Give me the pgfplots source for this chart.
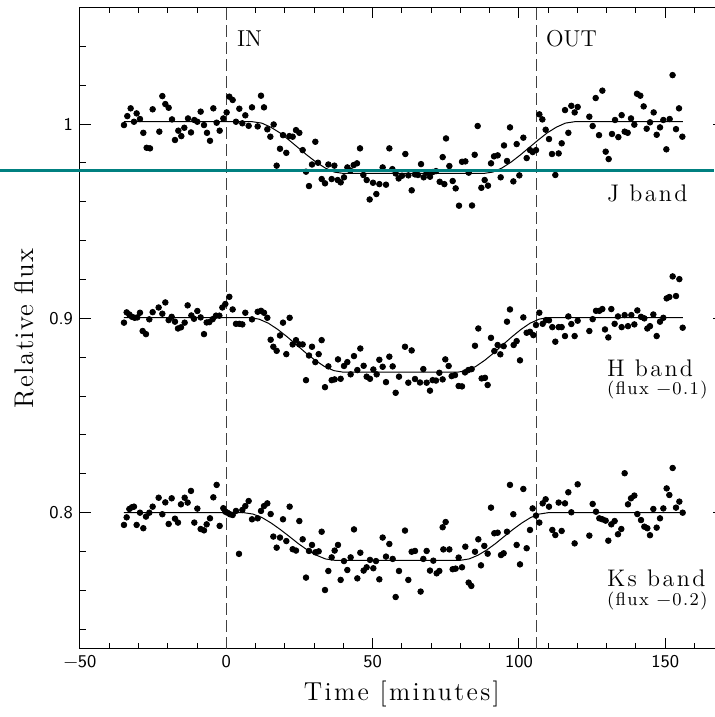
\documentclass[border=0pt]{standalone}
\usepackage{fontspec}
\usepackage{pgfplots}
\pgfplotsset{compat=1.18}
\usepackage{pgfplotstable}
\newfontfamily\labfont{Latin Modern Roman}[LetterSpace=5]
\newfontfamily\xlabfont{Latin Modern Roman}[LetterSpace=9]
\newfontfamily\bandfont{Latin Modern Roman}[LetterSpace=10]
\newfontfamily\fluxfont{Latin Modern Roman}[LetterSpace=8]
\definecolor{tealline}{RGB}{0,128,128}

% J band
\pgfplotstableread{
x y
-34.97 0.9995
-33.83 1.0041
-32.69 1.0081
-31.55 1.0012
-30.64 1.0055
-29.50 1.0026
-28.36 0.9955
-27.22 0.9878
-26.08 0.9875
-25.17 1.0076
-22.89 0.9961
-21.86 1.0144
-20.84 1.0103
-19.70 1.0084
-18.56 1.0024
-17.54 0.9918
-16.40 0.9966
-15.37 0.9938
-14.35 0.9981
-13.09 1.0029
-12.07 0.9957
-10.93 1.0021
-9.90 1.0012
-8.76 1.0064
-7.62 0.9995
-6.60 0.9955
-5.57 0.9914
-4.43 1.0081
-3.30 1.0007
-2.27 0.9966
-1.02 1.0029
0.12 1.0060
1.03 1.0141
2.17 1.0124
3.31 1.0012
4.45 1.0079
5.48 1.0004
6.50 1.0045
7.64 0.9991
8.78 1.0086
10.72 0.9988
11.86 1.0146
12.88 1.0086
14.02 0.9973
15.05 0.9935
16.19 0.9998
17.21 0.9786
18.35 0.9873
19.38 0.9943
20.51 0.9852
21.54 0.9938
22.68 0.9935
23.82 0.9969
24.96 0.9955
26.10 0.9866
27.24 0.9755
28.26 0.9681
29.29 0.9792
30.43 0.9909
31.34 0.9801
32.60 0.9717
33.74 0.9695
34.88 0.9792
36.01 0.9717
36.93 0.9786
38.07 0.9712
39.09 0.9700
40.23 0.9726
41.37 0.9777
42.39 0.9760
43.53 0.9789
44.67 0.9798
45.70 0.9875
46.84 0.9738
47.98 0.9712
49.00 0.9612
50.14 0.9698
51.28 0.9640
52.31 0.9691
53.44 0.9777
54.58 0.9688
55.72 0.9875
56.75 0.9768
57.89 0.9746
58.91 0.9720
60.05 0.9734
61.19 0.9846
62.22 0.9736
63.36 0.9659
64.50 0.9741
65.52 0.9738
66.55 0.9794
67.46 0.9726
68.48 0.9750
69.62 0.9729
70.53 0.9753
71.67 0.9758
72.93 0.9703
73.95 0.9830
74.52 0.9691
75.09 0.9926
76.23 0.9784
77.37 0.9707
78.39 0.9669
79.53 0.9580
80.56 0.9806
81.70 0.9808
82.84 0.9750
83.98 0.9581
84.89 0.9842
85.91 0.9990
87.17 0.9672
88.30 0.9712
89.44 0.9683
90.47 0.9798
91.50 0.9834
92.75 0.9839
93.77 0.9726
94.91 0.9890
95.94 0.9810
96.96 0.9983
98.10 0.9705
99.24 0.9897
100.15 0.9736
101.52 0.9930
102.66 0.9825
103.80 0.9866
104.71 0.9856
105.85 0.9866
106.99 1.0050
108.01 1.0024
109.15 0.9971
110.29 0.9923
111.31 0.9846
112.45 0.9738
113.59 0.9849
114.62 0.9901
115.76 1.0072
116.90 0.9955
117.92 1.0094
119.06 1.0060
120.09 1.0088
124.07 1.0038
125.21 0.9990
126.24 1.0134
127.38 0.9943
128.52 1.0172
129.66 0.9858
130.68 0.9820
131.82 0.9949
132.85 1.0021
133.99 0.9933
135.12 1.0046
136.15 0.9961
137.18 0.9955
138.31 1.0029
139.45 0.9997
140.36 1.0156
141.50 1.0146
142.64 1.0091
143.67 0.9976
144.81 1.0009
146.06 1.0060
147.09 0.9945
148.23 0.9983
149.36 1.0021
150.39 0.9870
151.53 1.0026
152.52 1.0252
153.69 0.9974
154.72 1.0081
155.86 0.9935
}\jband

% H band (flux - 0.1)
\pgfplotstableread{
x y
-34.97 0.8978
-34.05 0.9031
-33.14 0.9020
-32.23 0.9008
-31.32 0.9003
-30.41 0.9005
-29.50 0.9029
-28.59 0.8935
-27.45 0.8919
-26.31 0.8995
-25.17 0.9032
-23.12 0.9056
-21.86 0.9024
-20.84 0.9082
-19.70 0.8991
-18.67 0.9008
-17.54 0.8983
-16.51 0.8948
-15.49 0.8954
-14.23 0.8978
-13.21 0.9067
-11.95 0.9015
-11.04 0.8998
-9.90 0.9038
-8.76 0.9005
-7.62 0.8919
-6.71 0.8979
-5.80 0.8981
-4.66 0.8996
-3.52 0.9014
-2.38 0.9014
-1.36 0.9056
-0.33 0.9074
1.03 0.9111
2.17 0.9046
3.31 0.8972
4.45 0.8972
5.48 0.8969
6.50 0.9029
8.78 0.8995
10.72 0.9034
11.86 0.9039
12.88 0.9029
14.02 0.9003
15.16 0.8890
16.07 0.8854
17.21 0.8833
18.35 0.8912
19.38 0.8978
20.51 0.8816
21.65 0.9003
22.68 0.8866
23.82 0.8888
24.96 0.8866
26.10 0.8866
27.24 0.8682
28.26 0.8809
29.29 0.8854
30.43 0.8775
31.57 0.8816
32.59 0.8888
33.73 0.8646
34.87 0.8753
36.01 0.8682
37.03 0.8686
38.17 0.8789
39.08 0.8689
40.22 0.8755
41.36 0.8775
42.50 0.8712
43.64 0.8806
44.78 0.8734
45.80 0.8845
46.94 0.8756
47.97 0.8700
49.11 0.8689
50.25 0.8737
51.39 0.8712
52.30 0.8787
53.44 0.8751
54.58 0.8672
55.72 0.8803
56.86 0.8753
57.88 0.8617
59.02 0.8700
61.07 0.8854
62.21 0.8669
63.35 0.8835
64.49 0.8688
66.20 0.8670
67.33 0.8739
68.47 0.8669
69.61 0.8628
70.52 0.8682
71.66 0.8680
72.80 0.8720
73.94 0.8686
74.85 0.8789
75.99 0.8755
77.02 0.8703
78.16 0.8708
79.41 0.8652
80.55 0.8650
81.57 0.8722
82.71 0.8734
83.85 0.8739
84.99 0.8859
86.13 0.8948
87.27 0.8691
88.41 0.8694
89.32 0.8657
90.46 0.8900
91.60 0.8832
92.74 0.8863
93.65 0.8815
94.79 0.8857
95.93 0.8983
96.95 0.9046
98.21 0.8863
99.23 0.8883
100.37 0.8784
101.51 0.9005
102.65 0.8926
103.79 0.8931
104.93 0.8914
105.84 0.8966
106.98 0.9029
108.12 0.8972
109.26 0.8991
110.28 0.8990
111.42 0.8955
112.45 0.8880
113.59 0.8955
114.61 0.8955
115.75 0.8909
116.89 0.9010
117.92 0.8971
119.05 0.8909
120.08 0.8988
124.07 0.8935
125.21 0.8996
126.35 0.9039
127.48 0.9039
128.51 0.9048
129.42 0.8943
130.56 0.8902
131.58 0.9048
132.72 0.8972
133.86 0.9010
135.12 0.8955
136.14 0.9017
137.28 0.8960
138.42 0.9017
139.45 0.8969
140.47 0.9041
141.73 0.9008
142.86 0.9000
143.89 0.8948
144.80 0.8960
145.94 0.9020
147.08 0.8909
148.22 0.8983
149.36 0.9003
150.50 0.9103
151.41 0.9110
152.55 0.9216
153.69 0.9115
154.83 0.9202
155.97 0.8952
}\hband

% Ks band (flux - 0.2)
\pgfplotstableread{
x y
-34.97 0.7937
-34.05 0.7976
-33.14 0.8019
-32.23 0.8028
-31.55 0.8031
-30.64 0.7937
-29.50 0.8000
-28.36 0.7920
-27.45 0.7980
-26.31 0.8000
-25.17 0.8031
-23.12 0.8077
-21.86 0.7992
-20.84 0.8053
-19.70 0.7942
-18.67 0.8074
-17.54 0.7969
-16.51 0.7949
-15.49 0.8043
-14.23 0.8077
-13.21 0.8052
-12.07 0.8112
-10.93 0.7949
-9.90 0.8021
-8.76 0.7916
-7.62 0.7909
-6.71 0.7940
-5.57 0.7971
-4.43 0.8079
-3.30 0.8143
-2.27 0.7932
-1.02 0.8023
-0.33 0.8005
0.35 0.8000
1.26 0.7992
2.17 0.7988
3.31 0.8009
4.34 0.7788
5.48 0.8014
6.50 0.8034
7.64 0.8060
8.78 0.7966
10.72 0.7971
11.86 0.8009
12.88 0.8034
14.02 0.8048
15.16 0.7993
16.07 0.7877
17.21 0.7820
18.35 0.7872
19.38 0.7966
20.51 0.7854
21.65 0.8031
22.68 0.7812
23.82 0.7805
24.96 0.7957
26.10 0.7863
27.24 0.7666
28.26 0.7803
29.29 0.7834
30.43 0.7796
31.57 0.7801
32.59 0.7902
33.73 0.7602
34.87 0.7700
36.01 0.7770
37.03 0.7805
38.17 0.7834
39.08 0.7654
40.22 0.7751
41.36 0.7705
42.50 0.7770
43.64 0.7914
44.78 0.7662
45.80 0.7794
46.94 0.7702
47.97 0.7719
49.11 0.7757
50.25 0.7714
51.16 0.7751
52.30 0.7657
53.44 0.7872
54.58 0.7774
55.72 0.7839
56.86 0.7762
57.88 0.7566
59.02 0.7700
61.07 0.7908
62.21 0.7654
63.35 0.7799
64.49 0.7803
66.42 0.7594
67.33 0.7762
68.47 0.7803
69.61 0.7702
70.75 0.7753
71.89 0.7688
72.80 0.7700
73.94 0.7925
74.17 0.7811
74.97 0.7952
76.22 0.7811
77.36 0.7709
78.38 0.7712
79.41 0.7769
80.55 0.7719
81.69 0.7825
82.83 0.7640
83.74 0.7623
85.00 0.7799
86.13 0.7863
87.04 0.7729
88.18 0.7829
89.32 0.7789
90.46 0.8026
91.60 0.7894
92.74 0.7897
93.88 0.7782
94.79 0.7791
95.93 0.7902
96.95 0.8143
98.09 0.7992
99.23 0.7834
100.37 0.7734
101.51 0.8122
102.65 0.7817
103.79 0.7911
104.70 0.8022
105.84 0.7985
106.98 0.7949
108.12 0.8048
109.14 0.8069
110.28 0.8031
111.42 0.7911
112.45 0.7885
113.59 0.8052
114.61 0.7906
115.75 0.8048
116.89 0.8105
117.92 0.8002
119.05 0.7842
120.08 0.8146
124.07 0.7882
125.21 0.8045
126.35 0.8005
127.48 0.7971
128.51 0.7966
129.65 0.7959
130.56 0.7856
131.58 0.7940
132.72 0.7957
133.86 0.7889
135.00 0.7916
136.14 0.8203
137.28 0.8043
138.31 0.8074
139.45 0.8088
140.47 0.7993
141.73 0.7962
142.86 0.7928
143.89 0.7920
144.80 0.7884
145.94 0.8019
147.08 0.7923
148.22 0.7971
149.36 0.8022
150.50 0.8125
151.41 0.8091
152.55 0.8230
153.69 0.8026
154.83 0.8057
155.97 0.8000
}\ksband

\begin{document}
\begin{tikzpicture}
\begin{axis}[
    scale only axis,
    width=321.86pt, height=320.6pt,
    xmin=-50, xmax=170,
    ymin=0.73, ymax=1.06,
    xtick={-50,0,50,100,150},
    xticklabels={−50,0,50,100,150},
    minor xtick={-40,-30,...,160},
    ytick={0.8,0.9,1},
    yticklabels={0.8,0.9,1},
    minor ytick={0.74,0.76,0.78,0.82,0.84,0.86,0.88,0.92,0.94,0.96,0.98,1.02,1.04},
    major tick length=5.3pt, minor tick length=3pt,
    tick style={black, line width=0.5pt},
    tick label style={font=\sffamily\fontsize{9}{10}\selectfont},
    axis line style={line width=0.5pt},
    clip=false,
    ]
    % IN / OUT markers
    \addplot[black!75, line width=0.5pt, dash pattern=on 6pt off 2.5pt] coordinates {(0,0.73) (0,1.06)};
    \addplot[black!75, line width=0.5pt, dash pattern=on 6pt off 2.5pt] coordinates {(106,0.73) (106,1.06)};

    % transit models
    \addplot[black, line width=0.5pt] coordinates {
        (-35,1.0012) (9,1.0012) (12.1,1.0005) (15.2,0.9984) (18.3,0.9955) (21.4,0.9918)
        (24.5,0.9879) (27.6,0.9840) (30.7,0.9804) (33.8,0.9774) (36.9,0.9753) (40,0.9746)
        (88,0.9746) (91.1,0.9753) (94.2,0.9774) (97.3,0.9804) (100.4,0.9840) (103.5,0.9879)
        (106.6,0.9918) (109.7,0.9955) (112.8,0.9984) (115.9,1.0005) (119,1.0012) (156,1.0012)};
    \addplot[black, line width=0.5pt] coordinates {
        (-35,0.9004) (8,0.9004) (11.2,0.8996) (14.4,0.8975) (17.6,0.8943) (20.8,0.8905)
        (24,0.8864) (27.2,0.8822) (30.4,0.8784) (33.6,0.8752) (36.8,0.8731) (40,0.8723)
        (79,0.8723) (82.1,0.8731) (85.2,0.8752) (88.3,0.8784) (91.4,0.8822) (94.5,0.8864)
        (97.6,0.8905) (100.7,0.8943) (103.8,0.8975) (106.9,0.8996) (110,0.9004) (156,0.9004)};
    \addplot[black, line width=0.5pt] coordinates {
        (-35,0.8000) (6,0.8000) (9.1,0.7993) (12.2,0.7975) (15.3,0.7947) (18.4,0.7914)
        (21.5,0.7878) (24.6,0.7841) (27.7,0.7808) (30.8,0.7781) (33.9,0.7762) (37,0.7755)
        (80,0.7755) (83,0.7762) (86,0.7781) (89,0.7808) (92,0.7841) (95,0.7878)
        (98,0.7914) (101,0.7947) (104,0.7975) (107,0.7993) (110,0.8000) (156,0.8000)};

    % photometry
    \addplot[only marks, mark=*, mark size=1.4pt, black] table {\jband};
    \addplot[only marks, mark=*, mark size=1.4pt, black] table {\hband};
    \addplot[only marks, mark=*, mark size=1.4pt, black] table {\ksband};

    % labels
    \node[anchor=base west, inner sep=0, font=\fontsize{11.5}{13}\selectfont] at (axis cs:3.55,1.0398) {IN};
    \node[anchor=base west, inner sep=0, font=\fontsize{11.5}{13}\selectfont] at (axis cs:109.2,1.0398) {OUT};
    \node[anchor=base west, inner sep=0, font=\bandfont\fontsize{12}{14}\selectfont] at (axis cs:130,0.9600) {J band};
    \node[anchor=base west, inner sep=0, font=\bandfont\fontsize{12}{14}\selectfont] at (axis cs:130,0.8702) {H band};
    \node[anchor=base west, inner sep=0, font=\fluxfont\fontsize{9}{10}\selectfont] at (axis cs:130,0.8607) {(flux −0.1)};
    \node[anchor=base west, inner sep=0, font=\bandfont\fontsize{12}{14}\selectfont] at (axis cs:130,0.7620) {Ks band};
    \node[anchor=base west, inner sep=0, font=\fluxfont\fontsize{9}{10}\selectfont] at (axis cs:130,0.7524) {(flux −0.2)};

    \node[anchor=base, inner sep=0, font=\xlabfont\fontsize{13}{15}\selectfont] at ([yshift=-25.7pt]axis cs:60,0.73) {Time [minutes]};
    \node[rotate=90, anchor=base, inner sep=0, font=\labfont\fontsize{13.5}{15}\selectfont] at ([xshift=-23.35pt]rel axis cs:0,0.5) {Relative flux};

    \coordinate (bl) at (rel axis cs:0,0);
    \coordinate (tr) at (axis cs:166.72,1.06);
    \coordinate (tl) at (axis cs:-50,0.9763);
    \coordinate (tlr) at (axis cs:166.72,0.9763);
\end{axis}
\pgfresetboundingbox
\path[use as bounding box] ([xshift=-40pt,yshift=-34.15pt]bl) rectangle ([yshift=3.75pt]tr);
\draw[tealline, line width=1.6pt] ([xshift=-40pt]tl) -- (tlr);
\end{tikzpicture}
\end{document}
